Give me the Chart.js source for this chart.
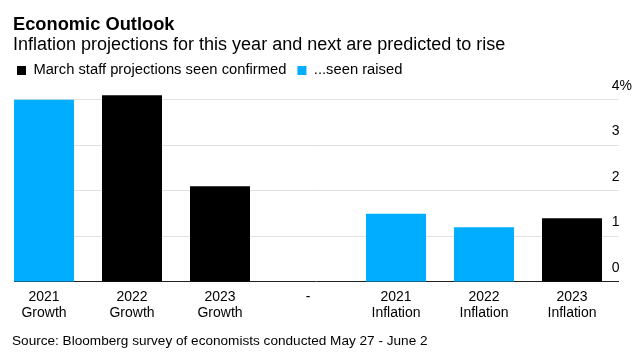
<!DOCTYPE html>
<html>
<head>
<meta charset="utf-8">
<script src="https://cdn.jsdelivr.net/npm/chart.js@4.4.1/dist/chart.umd.min.js"></script>
<style>
  html, body { margin: 0; padding: 0; background: #ffffff; }
  #wrap { position: relative; width: 639px; height: 357px; font-family: "Liberation Sans", Arial, sans-serif; color: #000; overflow: hidden; }
  #chart { position: absolute; left: 0; top: 0; }
  .txt { position: absolute; left: 13px; white-space: nowrap; line-height: 1; }
  #title { top: 15px; font-size: 18.3px; font-weight: bold; }
  #subtitle { top: 35px; font-size: 18px; }
  #source { top: 334px; font-size: 13.6px; left: 12px; }
</style>
</head>
<body>
<div id="wrap">
  <canvas id="chart" width="639" height="357"></canvas>
  <div class="txt" id="title">Economic Outlook</div>
  <div class="txt" id="subtitle">Inflation projections for this year and next are predicted to rise</div>
  <div class="txt" id="source">Source: Bloomberg survey of economists conducted May 27 - June 2</div>
</div>
<script>
// ---- data ----
const categories = [
  ['2021', 'Growth'], ['2022', 'Growth'], ['2023', 'Growth'], ['-'],
  ['2021', 'Inflation'], ['2022', 'Inflation'], ['2023', 'Inflation']
];
const seriesNames = ['March staff projections seen confirmed', '...seen raised'];
const confirmed = [null, 4.1, 2.1, null, null, null, 1.4];
const raised    = [4.0, null, null, null, 1.5, 1.2, null];
const yTicks = [0, 1, 2, 3, 4];
const yUnit = '%';

// ---- chart ----
Chart.defaults.font.family = "'Liberation Sans', Arial, sans-serif";
Chart.defaults.color = '#000';

const toPoints = arr => arr.map((v, i) => ({ x: i, y: v }));

new Chart(document.getElementById('chart'), {
  type: 'bar',
  data: {
    datasets: [
      { label: seriesNames[0], data: toPoints(confirmed), backgroundColor: '#000000', borderWidth: 0, xAxisID: 'x', yAxisID: 'y' },
      { label: seriesNames[1], data: toPoints(raised), backgroundColor: '#00adfe', borderWidth: 0, xAxisID: 'x', yAxisID: 'y' }
    ]
  },
  options: {
    responsive: false,
    devicePixelRatio: 1,
    animation: false,
    grouped: false,
    categoryPercentage: 1,
    barPercentage: 0.682,
    layout: { padding: { left: 6, right: 20, top: 52, bottom: 29 } },
    plugins: {
      title: { display: false },
      tooltip: { enabled: false },
      legend: {
        display: true,
        position: 'top',
        align: 'start',
        labels: {
          boxWidth: 9,
          boxHeight: 9,
          padding: 11,
          color: '#000',
          font: { size: 14.75 }
        }
      }
    },
    scales: {
      x: {
        type: 'linear',
        offset: false,
        min: -0.3409,
        max: 6.534,
        grid: { display: false, drawTicks: false, offset: false },
        border: { display: false },
        afterBuildTicks: s => { s.ticks = categories.map((c, i) => ({ value: i })); },
        ticks: {
          autoSkip: false,
          maxRotation: 0,
          padding: 7,
          color: '#000',
          font: { size: 14, lineHeight: 1.143 },
          callback: v => categories[v]
        }
      },
      y: {
        position: 'right',
        min: 0,
        max: 4.265,
        afterBuildTicks: s => { s.ticks = yTicks.map(v => ({ value: v })); },
        afterFit: s => { s.width = 0; },
        grid: {
          drawTicks: false,
          color: ctx => (ctx.tick && ctx.tick.value === 0) ? '#222222' : '#e2e2e2',
          lineWidth: 1
        },
        border: { display: false },
        ticks: {
          mirror: true,
          crossAlign: 'far',
          padding: 13,
          labelOffset: -14,
          color: '#000',
          font: { size: 14 },
          callback: v => (v === yTicks[yTicks.length - 1]) ? v + yUnit : String(v)
        }
      },
      yLeftSpacer: {
        type: 'linear',
        position: 'left',
        display: true,
        grid: { display: false, drawTicks: false },
        border: { display: false },
        ticks: { display: false },
        afterFit: s => { s.width = 8; }
      }
    }
  }
});
</script>
</body>
</html>
